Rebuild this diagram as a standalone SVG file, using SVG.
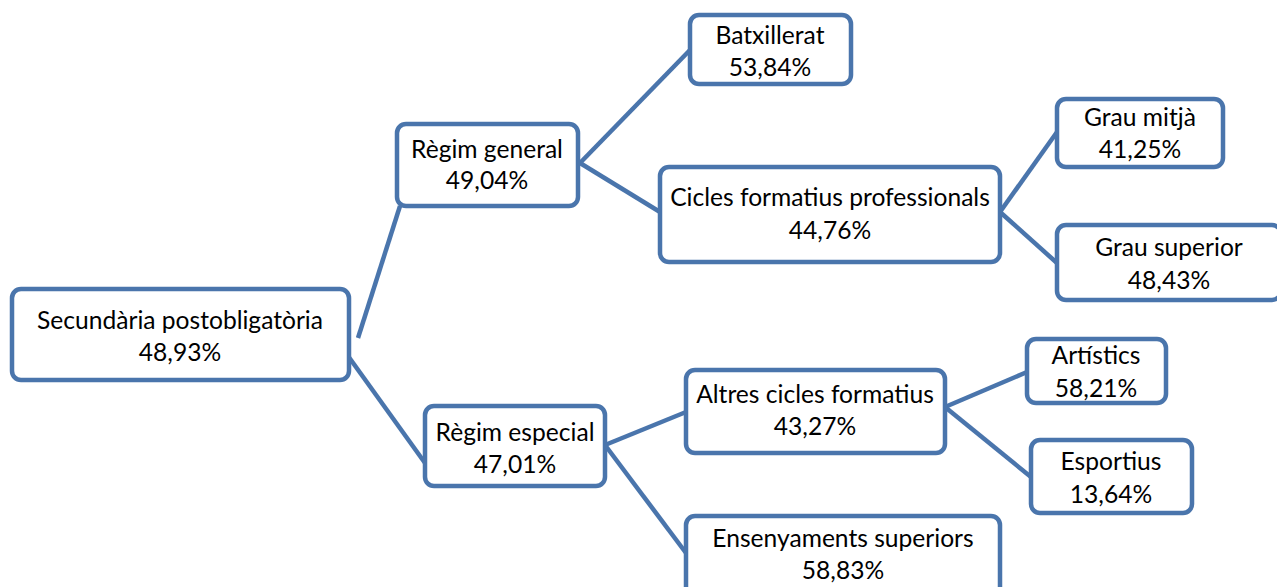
<svg xmlns="http://www.w3.org/2000/svg" width="1277" height="587" viewBox="0 0 1277 587">
<style>
.box{fill:#fff;stroke:#4A75AC;stroke-width:4.5}
.ln{stroke:#4A75AC;stroke-width:4.5;fill:none;stroke-linecap:butt}
text{font-family:Lato,"Open Sans",sans-serif;font-size:24.6px;fill:#000;text-anchor:middle}
</style>
<rect width="1277" height="587" fill="#fff"/>
<g id="connectors">
<line class="ln" x1="358" y1="338" x2="400" y2="206"/>
<line class="ln" x1="338" y1="342" x2="425" y2="463"/>
<line class="ln" x1="580" y1="163" x2="690" y2="50"/>
<line class="ln" x1="580" y1="163" x2="660" y2="212"/>
<line class="ln" x1="1000" y1="212" x2="1057" y2="132"/>
<line class="ln" x1="1000" y1="212" x2="1057" y2="263"/>
<line class="ln" x1="605" y1="445" x2="686" y2="412"/>
<line class="ln" x1="605" y1="445" x2="686" y2="553"/>
<line class="ln" x1="945" y1="407" x2="1027" y2="372"/>
<line class="ln" x1="945" y1="407" x2="1031" y2="477"/>
</g>
<g id="n-secundaria"><rect class="box" x="12" y="289" width="337" height="91" rx="9"/><text x="180" y="329">Secundària postobligatòria</text><text x="180" y="361">48,93%</text></g>
<g id="n-regim-general"><rect class="box" x="397" y="124" width="181" height="82" rx="9"/><text x="487" y="158">Règim general</text><text x="487" y="189">49,04%</text></g>
<g id="n-batxillerat"><rect class="box" x="690" y="15" width="161" height="69" rx="9"/><text x="770" y="44">Batxillerat</text><text x="770" y="76">53,84%</text></g>
<g id="n-cicles"><rect class="box" x="660" y="167" width="340" height="95" rx="9"/><text x="830" y="206">Cicles formatius professionals</text><text x="830" y="239">44,76%</text></g>
<g id="n-grau-mitja"><rect class="box" x="1057" y="99" width="166" height="68" rx="9"/><text x="1140" y="126">Grau mitjà</text><text x="1140" y="158">41,25%</text></g>
<g id="n-grau-superior"><rect class="box" x="1057" y="225" width="224" height="75" rx="9"/><text x="1169" y="256">Grau superior</text><text x="1169" y="289">48,43%</text></g>
<g id="n-regim-especial"><rect class="box" x="425" y="406" width="180" height="80" rx="9"/><text x="515" y="441">Règim especial</text><text x="515" y="473">47,01%</text></g>
<g id="n-altres"><rect class="box" x="686" y="370" width="259" height="83" rx="9"/><text x="815" y="403">Altres cicles formatius</text><text x="815" y="435">43,27%</text></g>
<g id="n-ensenyaments"><rect class="box" x="686" y="516" width="314" height="80" rx="9"/><text x="843" y="547">Ensenyaments superiors</text><text x="843" y="579">58,83%</text></g>
<g id="n-artistics"><rect class="box" x="1027" y="339" width="139" height="64" rx="9"/><text x="1096" y="364">Artístics</text><text x="1096" y="397">58,21%</text></g>
<g id="n-esportius"><rect class="box" x="1031" y="440" width="161" height="73" rx="9"/><text x="1111" y="470">Esportius</text><text x="1111" y="503">13,64%</text></g>
</svg>
